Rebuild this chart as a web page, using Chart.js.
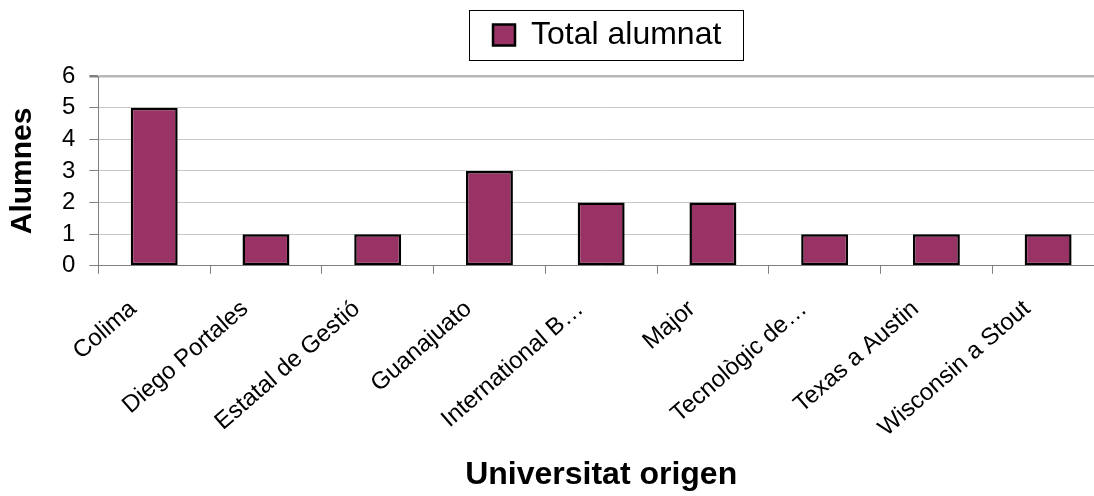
<!DOCTYPE html>
<html>
<head>
<meta charset="utf-8">
<script src="https://cdn.jsdelivr.net/npm/chart.js@4.4.1/dist/chart.umd.min.js"></script>
<style>
  html, body { margin: 0; padding: 0; background: #fff; overflow: hidden; }
  #wrap { position: relative; width: 1104px; height: 496px; }
</style>
</head>
<body>
<div id="wrap"><canvas id="c"></canvas></div>
<script>
const categories = ['Colima', 'Diego Portales', 'Estatal de Gestió', 'Guanajuato', 'International B…', 'Major', 'Tecnològic de…', 'Texas a Austin', 'Wisconsin a Stout'];
const totalAlumnat = [5, 1, 1, 3, 2, 2, 1, 1, 1];
const seriesName = 'Total alumnat';
const yTicks = [0, 1, 2, 3, 4, 5, 6];
const xTitle = 'Universitat origen';
const yTitle = 'Alumnes';

Chart.defaults.font.family = "'Liberation Sans', Arial, sans-serif";
Chart.defaults.color = '#000';

const LEGEND_SHIFT = 6;
const LEGEND_GAP = 15;

const legendTweaks = {
  id: 'legendTweaks',
  afterInit(chart) {
    const lg = chart.legend;
    if (!lg || lg._tweaked) return;
    lg._tweaked = true;
    const origFit = lg.fit;
    lg.fit = function () { origFit.call(this); this.height += LEGEND_GAP; };
    const origDraw = lg.draw;
    lg.draw = function () {
      this.left += LEGEND_SHIFT; this.right += LEGEND_SHIFT;
      origDraw.call(this);
      this.left -= LEGEND_SHIFT; this.right -= LEGEND_SHIFT;
    };
  },
  afterDraw(chart) {
    const lg = chart.legend;
    if (!lg || !lg.legendHitBoxes || !lg.legendHitBoxes.length) return;
    const hb = lg.legendHitBoxes[0];
    const ctx = chart.ctx;
    ctx.save();
    ctx.strokeStyle = '#000';
    ctx.lineWidth = 1;
    const cy = hb.top + hb.height / 2;
    const x0 = hb.left + LEGEND_SHIFT;
    ctx.strokeRect(Math.round(x0 - 24) + 0.5, Math.round(cy - 25) + 0.5, Math.round(hb.width + 46), 50);
    ctx.restore();
  }
};

new Chart(document.getElementById('c'), {
  type: 'bar',
  data: {
    labels: categories,
    datasets: [{
      label: seriesName,
      data: totalAlumnat,
      backgroundColor: '#993366',
      borderColor: '#000',
      borderWidth: 2.5,
      borderSkipped: false,
      barPercentage: 0.42,
      categoryPercentage: 1
    }]
  },
  options: {
    responsive: true,
    maintainAspectRatio: false,
    animation: false,
    layout: { padding: { top: 0, right: 0, bottom: 0, left: 0 } },
    plugins: {
      legend: {
        position: 'top',
        fullSize: false,
        labels: {
          font: { size: 32 },
          boxWidth: 22,
          boxHeight: 21,
          padding: 19,
          color: '#000'
        }
      },
      tooltip: { enabled: false }
    },
    scales: {
      x: {
        offset: true,
        grid: { drawOnChartArea: false, offset: true, tickLength: 8, color: '#808080' },
        border: { color: '#808080', width: 1 },
        ticks: { font: { size: 24 }, maxRotation: 41, minRotation: 41, padding: 21, labelOffset: -21, autoSkip: false },
        title: { display: true, text: xTitle, font: { size: 32, weight: 'bold' }, padding: { top: -8, bottom: 2 } }
      },
      y: {
        min: 0,
        max: 6,
        afterBuildTicks(axis) { axis.ticks = yTicks.map(v => ({ value: v })); },
        grid: {
          color: c => (c.tick && c.tick.value === 6) ? '#b8b8b8' : '#c8c8c8',
          lineWidth: c => (c.tick && c.tick.value === 6) ? 2.5 : 1,
          tickLength: 9,
          tickColor: '#808080'
        },
        border: { color: '#808080', width: 1 },
        ticks: { font: { size: 24 }, padding: 14, autoSkip: false },
        title: { display: true, text: yTitle, font: { size: 30, weight: 'bold' }, padding: { top: 5, bottom: 7 } }
      }
    }
  },
  plugins: [legendTweaks]
});
</script>
</body>
</html>
